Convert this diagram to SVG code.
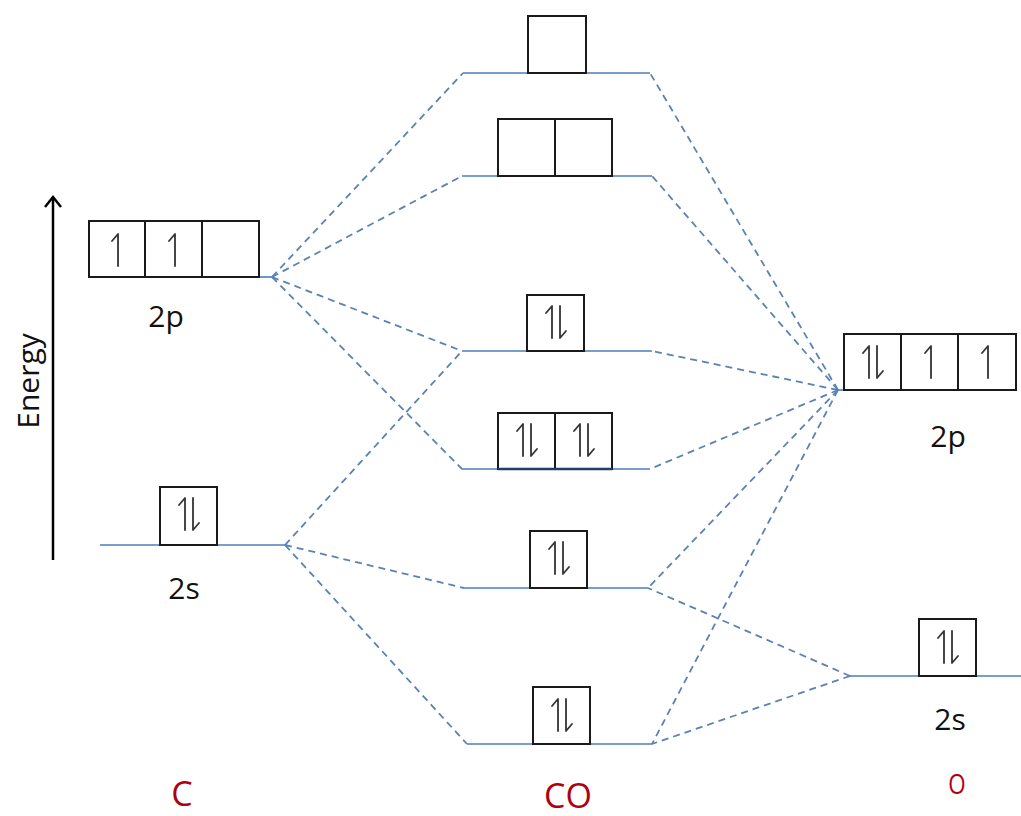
<svg xmlns="http://www.w3.org/2000/svg" width="1021" height="816" viewBox="0 0 1021 816">
  <defs>
    <style>
      .box { fill: #ffffff; stroke: #1a1a1a; stroke-width: 2; }
      .level { stroke: #4a7ebb; stroke-width: 1.6; fill: none; }
      .conn { stroke: #5a82b4; stroke-width: 1.8; stroke-dasharray: 7 5; fill: none; }
      .spin { stroke: #333333; stroke-width: 1.8; fill: none; stroke-linecap: round; stroke-linejoin: round; }
      .lbl { font-family: "Open Sans", "Liberation Sans", sans-serif; font-size: 30px; fill: #111111; text-anchor: middle; }
      .atom { font-family: "Open Sans", "Liberation Sans", sans-serif; fill: #b00010; text-anchor: middle; }
    </style>
    <!-- electron spins: up harpoon and down harpoon, drawn around (0,0) -->
    <path id="up" class="spin" d="M0,16 V-16 L-6,-9"/>
    <path id="down" class="spin" d="M0,-16 V16 L6,9"/>
  </defs>

  <rect width="1021" height="816" fill="#ffffff"/>

  <!-- energy axis -->
  <g id="energy-axis">
    <line x1="53" y1="560" x2="53" y2="198" stroke="#000" stroke-width="2.5"/>
    <path d="M45,207 L53,197 L61,207" fill="none" stroke="#000" stroke-width="2.5" stroke-linejoin="miter"/>
    <text class="lbl" transform="translate(39,381) rotate(-90)" font-size="29">Energy</text>
  </g>

  <!-- correlation lines -->
  <g id="connectors">
    <!-- C 2p -->
    <line class="conn" x1="272" y1="277" x2="463" y2="73"/>
    <line class="conn" x1="272" y1="277" x2="462" y2="176"/>
    <line class="conn" x1="272" y1="277" x2="462" y2="351"/>
    <line class="conn" x1="272" y1="277" x2="462" y2="469"/>
    <!-- C 2s -->
    <line class="conn" x1="285" y1="545" x2="462" y2="351"/>
    <line class="conn" x1="285" y1="545" x2="464" y2="588"/>
    <line class="conn" x1="285" y1="545" x2="467" y2="744"/>
    <!-- O 2p -->
    <line class="conn" x1="838" y1="390" x2="650" y2="73"/>
    <line class="conn" x1="838" y1="390" x2="652" y2="176"/>
    <line class="conn" x1="838" y1="390" x2="652" y2="351"/>
    <line class="conn" x1="838" y1="390" x2="650" y2="469"/>
    <line class="conn" x1="838" y1="390" x2="648" y2="588"/>
    <line class="conn" x1="838" y1="390" x2="652" y2="744"/>
    <!-- O 2s -->
    <line class="conn" x1="850" y1="676" x2="648" y2="588"/>
    <line class="conn" x1="850" y1="676" x2="652" y2="744"/>
  </g>

  <!-- carbon 2p -->
  <g id="c-2p">
    <line class="level" x1="259" y1="277" x2="272" y2="277"/>
    <rect class="box" x="89" y="221" width="56" height="56"/>
    <rect class="box" x="145" y="221" width="57" height="56"/>
    <rect class="box" x="202" y="221" width="57" height="56"/>
    <use href="#up" x="118" y="250"/>
    <use href="#up" x="175" y="250"/>
    <text class="lbl" x="166" y="327">2p</text>
  </g>

  <!-- carbon 2s -->
  <g id="c-2s">
    <line class="level" x1="100" y1="545" x2="285" y2="545"/>
    <rect class="box" x="160" y="487" width="57" height="58"/>
    <use href="#up" x="185" y="514"/>
    <use href="#down" x="193" y="514"/>
    <text class="lbl" x="184" y="599">2s</text>
  </g>

  <!-- CO molecular orbitals, highest first -->
  <g id="mo-6">
    <line class="level" x1="463" y1="73" x2="650" y2="73"/>
    <rect class="box" x="528" y="16" width="58" height="57"/>
  </g>
  <g id="mo-5">
    <line class="level" x1="462" y1="176" x2="652" y2="176"/>
    <rect class="box" x="498" y="119" width="57" height="57"/>
    <rect class="box" x="555" y="119" width="57" height="57"/>
  </g>
  <g id="mo-4">
    <line class="level" x1="462" y1="351" x2="652" y2="351"/>
    <rect class="box" x="527" y="295" width="57" height="56"/>
    <use href="#up" x="552" y="322"/>
    <use href="#down" x="560" y="322"/>
  </g>
  <g id="mo-3">
    <line class="level" x1="462" y1="469" x2="650" y2="469"/>
    <rect class="box" x="498" y="413" width="57" height="56"/>
    <rect class="box" x="555" y="413" width="57" height="56"/>
    <line x1="498" y1="469" x2="612" y2="469" stroke="#1f3d6e" stroke-width="2.5"/>
    <use href="#up" x="523" y="440"/>
    <use href="#down" x="531" y="440"/>
    <use href="#up" x="580" y="440"/>
    <use href="#down" x="588" y="440"/>
  </g>
  <g id="mo-2">
    <line class="level" x1="464" y1="588" x2="648" y2="588"/>
    <rect class="box" x="530" y="531" width="57" height="57"/>
    <use href="#up" x="555" y="558"/>
    <use href="#down" x="563" y="558"/>
  </g>
  <g id="mo-1">
    <line class="level" x1="467" y1="744" x2="652" y2="744"/>
    <rect class="box" x="533" y="687" width="57" height="57"/>
    <use href="#up" x="558" y="715"/>
    <use href="#down" x="566" y="715"/>
  </g>

  <!-- oxygen 2p -->
  <g id="o-2p">
    <line class="level" x1="838" y1="390" x2="844" y2="390"/>
    <rect class="box" x="844" y="334" width="57" height="56"/>
    <rect class="box" x="901" y="334" width="57" height="56"/>
    <rect class="box" x="958" y="334" width="58" height="56"/>
    <use href="#up" x="869" y="362"/>
    <use href="#down" x="877" y="362"/>
    <use href="#up" x="931" y="362"/>
    <use href="#up" x="988" y="362"/>
    <text class="lbl" x="948" y="447">2p</text>
  </g>

  <!-- oxygen 2s -->
  <g id="o-2s">
    <line class="level" x1="850" y1="676" x2="1021" y2="676"/>
    <rect class="box" x="919" y="619" width="57" height="57"/>
    <use href="#up" x="944" y="647"/>
    <use href="#down" x="952" y="647"/>
    <text class="lbl" x="950" y="730">2s</text>
  </g>

  <!-- atom labels -->
  <g id="labels">
    <text class="atom" x="182" y="806" font-size="34">C</text>
    <text class="atom" x="568" y="808" font-size="34">CO</text>
    <text class="atom" x="957" y="794" font-size="28" transform="translate(957,794) scale(0.8,1) translate(-957,-794)">O</text>
  </g>
</svg>
